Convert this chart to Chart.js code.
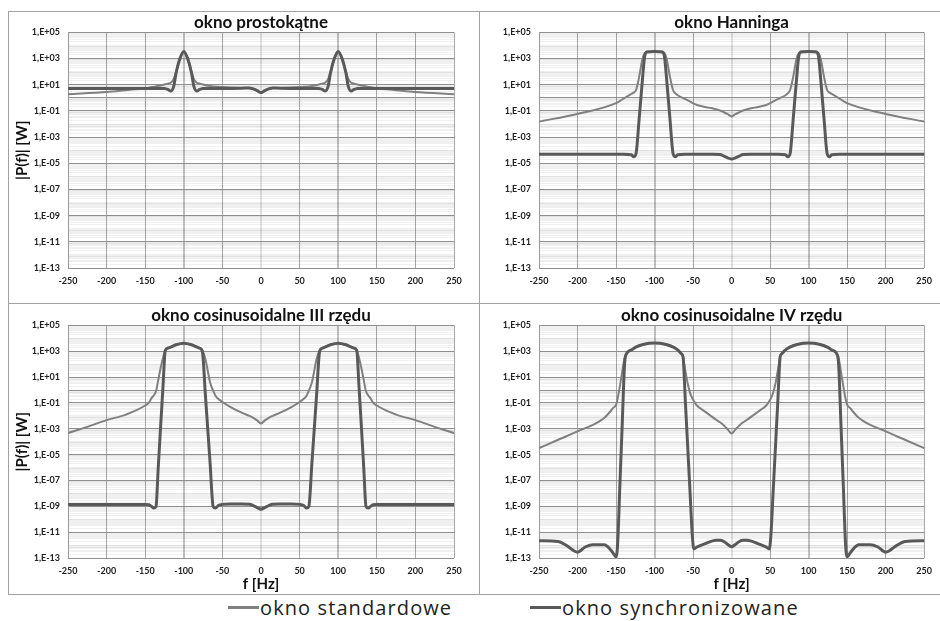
<!DOCTYPE html>
<html>
<head>
<meta charset="utf-8">
<script src="https://cdn.jsdelivr.net/npm/chart.js@4.4.0/dist/chart.umd.min.js"></script>
<style>
    body { margin: 0; background: #fff; }
    #wrap { position: relative; width: 940px; height: 621px; overflow: hidden; background: #fff; font-family: Lato, "Open Sans", sans-serif; }
    .line { position: absolute; background: #a2a2a2; }
    canvas { position: absolute; }
    .legend { position: absolute; top: 594px; height: 27px; display: flex; align-items: center; font-family: "Open Sans", sans-serif; font-size: 20px; letter-spacing: 1.1px; color: #222; }
    .legend span.sw { display: inline-block; width: 31px; height: 3px; margin-right: 1px; }
</style>
</head>
<body>
<div id="wrap">
    <div class="line" style="left:8px;top:11px;width:932px;height:1px"></div>
    <div class="line" style="left:8px;top:11px;width:1px;height:583px"></div>
    <div class="line" style="left:8px;top:594px;width:932px;height:1px"></div>
    <div class="line" style="left:479px;top:11px;width:1px;height:583px"></div>
    <div class="line" style="left:8px;top:303px;width:932px;height:1px"></div>

    <canvas id="rect" width="469" height="290" style="left:9px;top:12px"></canvas>
    <canvas id="hann" width="460" height="290" style="left:480px;top:12px"></canvas>
    <canvas id="cos3" width="469" height="289" style="left:9px;top:304px"></canvas>
    <canvas id="cos4" width="460" height="289" style="left:480px;top:304px"></canvas>

    <div class="legend" style="left:228px"><span class="sw" style="background:#808080"></span>okno standardowe</div>
    <div class="legend" style="left:530px"><span class="sw" style="background:#595959"></span>okno synchronizowane</div>
</div>

<script>
// values are log10 of |P(f)|
const rectFreq = [-250,-200,-170,-150,-130,-125,-120,-117,-113,-110,-105,-100,-95,-90,-87,-83,-80,-75,-70,-50,-25,-15,-10,-5,0,5,10,15,25,50,70,75,80,83,87,90,95,100,105,110,113,117,120,125,130,150,170,200,250];
const rectStd = [0.28,0.45,0.62,0.72,0.95,1.02,1.1,1.15,1.45,2.0,3.0,3.55,3.0,2.0,1.45,1.15,1.1,1.02,0.95,0.82,0.76,0.76,0.68,0.55,0.40,0.55,0.68,0.76,0.76,0.82,0.95,1.02,1.1,1.15,1.45,2.0,3.0,3.55,3.0,2.0,1.45,1.15,1.1,1.02,0.95,0.72,0.62,0.45,0.28];
const rectSync = [0.72,0.72,0.72,0.72,0.72,0.71,0.62,0.52,0.9,1.9,3.0,3.55,3.0,1.9,0.9,0.52,0.62,0.71,0.72,0.72,0.74,0.76,0.68,0.55,0.40,0.55,0.68,0.76,0.74,0.72,0.72,0.71,0.62,0.52,0.9,1.9,3.0,3.55,3.0,1.9,0.9,0.52,0.62,0.71,0.72,0.72,0.72,0.72,0.72];

const hannFreq = [-250,-200,-150,-140,-130,-127,-124,-120,-116,-113,-110,-100,-90,-87,-84,-80,-76,-73,-70,-60,-45,-25,-15,-10,-5,0,5,10,15,25,45,60,70,73,76,80,84,87,90,100,110,113,116,120,124,127,130,140,150,200,250];
const hannStd = [-1.81,-1.23,-0.41,-0.05,0.3,0.4,0.6,1.6,2.9,3.4,3.52,3.55,3.52,3.4,2.9,1.6,0.6,0.35,0.2,-0.1,-0.55,-0.8,-0.97,-1.1,-1.25,-1.42,-1.25,-1.1,-0.97,-0.8,-0.55,-0.1,0.2,0.35,0.6,1.6,2.9,3.4,3.52,3.55,3.52,3.4,2.9,1.6,0.6,0.4,0.3,-0.05,-0.41,-1.23,-1.81];
const hannSync = [-4.31,-4.31,-4.31,-4.31,-4.35,-4.5,-4.25,-1.6,1.2,3.1,3.5,3.55,3.5,3.1,1.2,-1.6,-4.25,-4.5,-4.35,-4.31,-4.31,-4.31,-4.33,-4.45,-4.58,-4.68,-4.58,-4.45,-4.33,-4.31,-4.31,-4.31,-4.35,-4.5,-4.25,-1.6,1.2,3.1,3.5,3.55,3.5,3.1,1.2,-1.6,-4.25,-4.5,-4.35,-4.31,-4.31,-4.31,-4.31];

const cos3Freq = [-250,-225,-200,-175,-150,-145,-142,-139,-136,-133,-130,-127,-124,-120,-110,-100,-90,-80,-76,-72,-69,-66,-62,-59,-55,-50,-40,-25,-15,-10,-5,0,5,10,15,25,40,50,55,59,62,66,69,72,76,80,90,100,110,120,124,127,130,133,136,139,142,145,150,175,200,225,250];
const cos3Std = [-3.33,-2.85,-2.33,-1.9,-1.2,-0.95,-0.65,-0.42,-0.1,0.8,1.7,2.5,3.07,3.25,3.5,3.62,3.5,3.25,3.05,2.4,1.5,0.6,-0.05,-0.45,-0.7,-0.93,-1.3,-1.75,-2.0,-2.15,-2.35,-2.6,-2.35,-2.15,-2.0,-1.75,-1.3,-0.93,-0.7,-0.45,-0.05,0.6,1.5,2.4,3.05,3.25,3.5,3.62,3.5,3.25,3.07,2.5,1.7,0.8,-0.1,-0.42,-0.65,-0.95,-1.2,-1.9,-2.33,-2.85,-3.33];
const cos3Sync = [-8.86,-8.86,-8.86,-8.86,-8.86,-8.88,-9.0,-9.14,-9.0,-5.9,-2.8,0.2,3.07,3.25,3.5,3.62,3.5,3.25,3.0,-0.4,-3.0,-5.6,-9.0,-9.14,-8.92,-8.85,-8.83,-8.83,-8.84,-8.95,-9.1,-9.22,-9.1,-8.95,-8.84,-8.83,-8.83,-8.85,-8.92,-9.14,-9.0,-5.6,-3.0,-0.4,3.0,3.25,3.5,3.62,3.5,3.25,3.07,0.2,-2.8,-5.9,-9.0,-9.14,-9.0,-8.88,-8.86,-8.86,-8.86,-8.86,-8.86];

const cos4Freq = [-250,-225,-215,-200,-190,-180,-165,-158,-154,-150,-148,-145,-142,-139,-137,-130,-125,-115,-100,-85,-75,-70,-65,-63,-60,-57,-54,-51,-49,-45,-35,-20,-15,-10,-5,0,5,10,15,20,35,45,49,51,54,57,60,63,65,70,75,85,100,115,125,130,137,139,142,145,148,150,154,158,165,180,190,200,215,225,250];
const cos4Std = [-4.5,-3.85,-3.6,-3.2,-2.95,-2.7,-2.15,-1.7,-1.4,-1.15,-0.7,0.3,1.4,2.45,2.75,3.1,3.3,3.52,3.63,3.52,3.3,3.1,2.8,2.55,1.5,0.5,-0.2,-0.65,-0.85,-1.2,-1.65,-2.3,-2.5,-2.75,-3.05,-3.37,-3.05,-2.75,-2.5,-2.3,-1.65,-1.2,-0.85,-0.65,-0.2,0.5,1.5,2.55,2.8,3.1,3.3,3.52,3.63,3.52,3.3,3.1,2.75,2.45,1.4,0.3,-0.7,-1.15,-1.4,-1.7,-2.15,-2.7,-2.95,-3.2,-3.6,-3.85,-4.5];
const cos4Sync = [-11.67,-11.72,-12.0,-12.55,-12.15,-11.97,-11.97,-12.3,-12.6,-12.9,-12.0,-7.35,-2.7,1.95,2.75,3.1,3.3,3.52,3.63,3.52,3.3,3.1,2.8,2.55,-0.9,-4.35,-7.8,-11.25,-12.3,-12.15,-11.9,-11.62,-11.62,-11.72,-11.95,-12.13,-11.95,-11.72,-11.62,-11.62,-11.9,-12.15,-12.3,-11.25,-7.8,-4.35,-0.9,2.55,2.8,3.1,3.3,3.52,3.63,3.52,3.3,3.1,2.75,1.95,-2.7,-7.35,-12.0,-12.9,-12.6,-12.3,-11.97,-11.97,-12.15,-12.55,-12.0,-11.72,-11.67];

const xTicks = [-250, -200, -150, -100, -50, 0, 50, 100, 150, 200, 250];
const yExpMin = -13;
const yExpMax = 5;

const STD_COLOR = '#808080';
const SYNC_COLOR = '#595959';
const FONT = 'Lato, "Open Sans", sans-serif';

function toPoints(freq, exps) {
    return freq.map((f, i) => ({ x: f, y: Math.pow(10, exps[i]) }));
}

function buildLogTicks(scale) {
    const ticks = [];
    for (let e = yExpMin; e <= yExpMax; e++) {
        ticks.push({ value: Math.pow(10, e) });
        if (e < yExpMax) {
            for (let m = 2; m <= 9; m++) ticks.push({ value: m * Math.pow(10, e) });
        }
    }
    scale.ticks = ticks;
}

function decadeOf(value) {
    const e = Math.log10(value);
    const r = Math.round(e);
    return Math.abs(e - r) < 1e-6 ? r : null;
}

function yLabel(value) {
    const r = decadeOf(value);
    if (r === null || r % 2 === 0) return '';
    return '1,E' + (r < 0 ? '-' : '+') + String(Math.abs(r)).padStart(2, '0');
}

// minor lines are translucent so the vertical grid shows through them
function yGridColor(ctx) {
    const r = decadeOf(ctx.tick.value);
    if (r !== null && (r % 2 !== 0 || r === 0)) return '#8f8f8f';
    return 'rgba(0, 0, 0, 0.06)';
}

function xGridColor(ctx) {
    const v = ctx.tick.value;
    if (v === 0) return '#e2e2e2';
    if (Math.abs(v) === 100) return '#c2c2c2';
    return '#a8a8a8';
}

function xGridWidth(ctx) {
    const v = ctx.tick.value;
    return (v === 0 || Math.abs(v) === 100) ? 2 : 1;
}

function makePanel(id, title, freq, std, sync, opts) {
    new Chart(document.getElementById(id), {
        type: 'line',
        data: {
            datasets: [
                {
                    label: 'okno standardowe',
                    data: toPoints(freq, std),
                    borderColor: STD_COLOR,
                    borderWidth: 2,
                    order: 2
                },
                {
                    label: 'okno synchronizowane',
                    data: toPoints(freq, sync),
                    borderColor: SYNC_COLOR,
                    borderWidth: 3,
                    order: 1
                }
            ]
        },
        options: {
            responsive: false,
            animation: false,
            parsing: false,
            elements: {
                point: { radius: 0 },
                line: { cubicInterpolationMode: 'monotone', borderCapStyle: 'round', borderJoinStyle: 'round' }
            },
            layout: { padding: { top: opts.top, right: opts.right, bottom: 0, left: 0 } },
            plugins: {
                legend: { display: false },
                tooltip: { enabled: false },
                title: {
                    display: true,
                    text: title,
                    fullSize: false,
                    color: '#111',
                    font: { family: FONT, size: 17, weight: 'bold' },
                    padding: { top: 0, bottom: 0 }
                }
            },
            scales: {
                x: {
                    type: 'linear',
                    min: -250,
                    max: 250,
                    afterBuildTicks: (scale) => { scale.ticks = xTicks.map((v) => ({ value: v })); },
                    afterFit: (scale) => { scale.height = opts.xHeight; },
                    ticks: {
                        autoSkip: false,
                        maxRotation: 0,
                        padding: 8,
                        color: '#222',
                        font: { family: FONT, size: 9, weight: 'bold' }
                    },
                    grid: { color: xGridColor, lineWidth: xGridWidth, drawTicks: false },
                    border: { display: false },
                    title: {
                        display: opts.xTitle,
                        text: 'f [Hz]',
                        color: '#111',
                        font: { family: FONT, size: 15, weight: 'bold' },
                        padding: { top: 0, bottom: 0 }
                    }
                },
                y: {
                    type: 'logarithmic',
                    min: Math.pow(10, yExpMin),
                    max: Math.pow(10, yExpMax),
                    afterBuildTicks: buildLogTicks,
                    afterFit: (scale) => { scale.width = 59; },
                    ticks: {
                        autoSkip: false,
                        padding: 8,
                        color: '#222',
                        font: { family: FONT, size: 9, weight: 'bold' },
                        callback: yLabel
                    },
                    grid: { color: yGridColor, lineWidth: 1, drawTicks: false },
                    border: { display: true, color: '#999' },
                    title: {
                        display: opts.yTitle,
                        text: '|P(f)| [W]',
                        color: '#111',
                        font: { family: FONT, size: 15, weight: 'bold' },
                        padding: { top: 4, bottom: 0 }
                    }
                }
            }
        }
    });
}

makePanel('rect', 'okno prostokątne', rectFreq, rectStd, rectSync, { top: 0, right: 24, xHeight: 34, xTitle: false, yTitle: true });
makePanel('hann', 'okno Hanninga', hannFreq, hannStd, hannSync, { top: 0, right: 15, xHeight: 34, xTitle: false, yTitle: false });
makePanel('cos3', 'okno cosinusoidalne III rzędu', cos3Freq, cos3Std, cos3Sync, { top: 1, right: 24, xHeight: 35, xTitle: true, yTitle: true });
makePanel('cos4', 'okno cosinusoidalne IV rzędu', cos4Freq, cos4Std, cos4Sync, { top: 1, right: 15, xHeight: 35, xTitle: true, yTitle: false });
</script>
</body>
</html>
